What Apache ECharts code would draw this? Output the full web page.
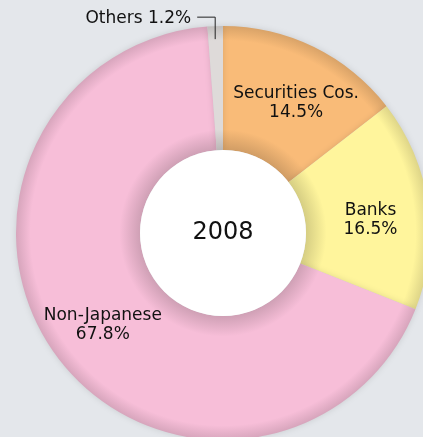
<!DOCTYPE html>
<html><head><meta charset="utf-8">
<script src="https://cdn.jsdelivr.net/npm/echarts@6/dist/echarts.min.js"></script>
<style>html,body{margin:0;padding:0;background:#e4e7eb;}#c{width:423px;height:437px;}</style>
</head><body><div id="c"></div>
<script>
const categories = ['Securities Cos.', 'Banks', 'Non-Japanese', 'Others'];
const values = [14.5, 16.5, 67.8, 1.2];
const colors = ['#f9bb78', '#fff59c', '#f7bed8', '#dedad9'];
const centerTitle = '2008';

function shade(hex, f) {
  const n = parseInt(hex.slice(1), 16);
  const r = Math.round(((n >> 16) & 255) * f), g = Math.round(((n >> 8) & 255) * f), b = Math.round((n & 255) * f);
  return 'rgb(' + r + ',' + g + ',' + b + ')';
}
const CX = 223, CY = 233, R0 = 83, R1 = 207;
function grad(c) {
  return new echarts.graphic.RadialGradient(CX, CY, R1, [
    { offset: 0, color: shade(c, 0.82) },
    { offset: R0 / R1, color: shade(c, 0.84) },
    { offset: 0.50, color: c },
    { offset: 0.93, color: c },
    { offset: 1, color: shade(c, 0.87) }
  ], true);
}
const labelOffsets = [[8, 3], [1, 8], [-1, 4], [0, 0]];

const chart = echarts.init(document.getElementById('c'));
const FONT = '"DejaVu Sans", sans-serif';
chart.setOption({
  backgroundColor: '#e4e7eb',
  animation: false,
  series: [{
    type: 'pie',
    center: [CX, CY],
    radius: [R0, R1],
    startAngle: 90,
    clockwise: true,
    avoidLabelOverlap: false,
    itemStyle: { shadowBlur: 6, shadowColor: 'rgba(0,0,0,0.12)' },
    label: {
      position: 'inside',
      color: '#111',
      fontSize: 17,
      fontFamily: FONT,
      lineHeight: 19,
      formatter: p => p.name + '\n' + p.value.toFixed(1) + '%'
    },
    labelLine: { show: false },
    data: categories.map((n, i) => {
      const d = { name: n, value: values[i], itemStyle: { color: grad(colors[i]) }, label: { offset: labelOffsets[i] } };
      if (i === 3) {
        d.label = { position: 'outside', formatter: p => p.name + ' ' + p.value.toFixed(1) + '%' };
      }
      return d;
    }),
    labelLayout: function (params) {
      if (params.dataIndex !== 3) return {};
      const p = params.labelLinePoints;
      const x0 = p[0][0], y0 = p[0][1];
      return { x: x0 - 24, y: y0 - 8, align: 'right', verticalAlign: 'middle' };
    }
  }, {
    type: 'pie',
    center: [CX, CY],
    radius: [0, R0],
    silent: true,
    label: { position: 'center', formatter: centerTitle, fontSize: 24, color: '#111', fontFamily: FONT },
    labelLine: { show: false },
    itemStyle: { color: '#ffffff' },
    data: [{ name: centerTitle, value: 1 }]
  }]
});

// leader line for "Others", derived from the library's own sector layout
const lay = chart.getModel().getSeriesByIndex(0).getData().getItemLayout(3);
const mid = (lay.startAngle + lay.endAngle) / 2;
const x0 = lay.cx + lay.r * Math.cos(mid), y0 = lay.cy + lay.r * Math.sin(mid);
chart.setOption({
  graphic: [{
    type: 'polyline', z: 100, silent: true,
    shape: { points: [[x0, y0 + 13], [x0, y0 - 9], [x0 - 18, y0 - 9]] },
    style: { stroke: '#222', lineWidth: 1, fill: null }
  }]
});
</script></body></html>
